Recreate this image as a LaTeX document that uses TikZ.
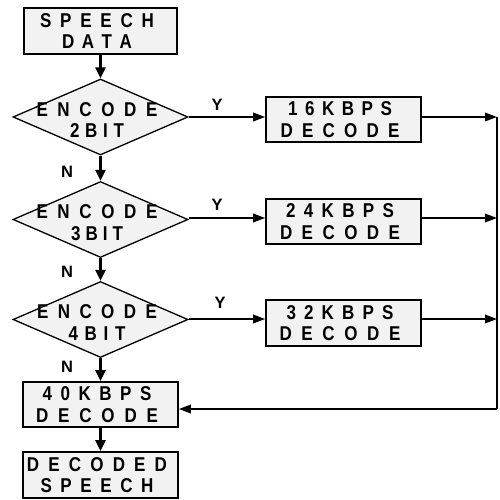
\documentclass[tikz,border=0pt]{standalone}
\usepackage{fontspec}
\setmainfont{Liberation Sans}
\newfontfamily\lblfont{Liberation Sans}[FakeStretch=0.85]
\usetikzlibrary{shapes.geometric,arrows.meta}
% letters of a word spread evenly over a given width (in pt)
\newcommand\spread[2]{\makebox[#1pt][s]{#2}}

\begin{document}
\begin{tikzpicture}[x=1pt,y=-1pt,
  shade/.style={fill=black!5},
  procbox/.style={rectangle,draw,shade,line width=1.7pt,inner sep=0pt,
    minimum width=155pt,minimum height=45pt},
  decision/.style={diamond,draw,shade,line width=1.3pt,inner sep=0pt,
    minimum width=175pt,minimum height=76pt},
  txt/.style={font=\lblfont\bfseries\fontsize{20}{21.5}\selectfont,
    align=center,inner sep=0pt,xshift=-3.5pt},
  yn/.style={font=\bfseries\fontsize{16.5}{16.5}\selectfont,inner sep=0pt},
  vflow/.style={line width=2.6pt,-{Triangle[length=11pt,width=10pt]}},
  hflow/.style={line width=1.8pt,-{Triangle[length=12pt,width=8.5pt]}},
  rail/.style={line width=2.2pt,line join=miter}
]
\useasboundingbox (0,0) rectangle (500,500);

% left column
\node[procbox,minimum width=153pt,minimum height=46pt,
  label={[txt]center:\spread{114}{S P E E C H}\\\spread{70}{D A T A}}]
  (sd) at (100.5,31) {};
\node[decision,label={[txt,yshift=-3pt]center:\spread{121}{E N C O D E}\\\spread{54}{2 B I T}}]
  (d1) at (100.5,117) {};
\node[decision,label={[txt,yshift=-3pt]center:\spread{121}{E N C O D E}\\\spread{52}{3 B I T}}]
  (d2) at (100.5,219.5) {};
\node[decision,label={[txt,yshift=-3pt]center:\spread{120}{E N C O D E}\\\spread{57}{4 B I T}}]
  (d3) at (100.5,319.5) {};
\node[procbox,
  label={[txt]center:\spread{109}{4 0 K B P S}\\\spread{122}{D E C O D E}}]
  (k40) at (100.5,404.5) {};
\node[procbox,minimum height=46pt,
  label={[txt]center:\spread{140}{D E C O D E D}\\\spread{113}{S P E E C H}}]
  (ds) at (100.5,475) {};

% right column
\node[procbox,
  label={[txt]center:\spread{104}{1 6 K B P S}\\\spread{119}{D E C O D E}}]
  (k16) at (343.5,119.5) {};
\node[procbox,
  label={[txt]center:\spread{108}{2 4 K B P S}\\\spread{120}{D E C O D E}}]
  (k24) at (343.5,221.5) {};
\node[procbox,minimum height=46pt,
  label={[txt]center:\spread{107}{3 2 K B P S}\\\spread{121}{D E C O D E}}]
  (k32) at (343.5,323) {};

% rail collecting the decoder outputs
\coordinate (r1) at (497,117);
\coordinate (r2) at (497,218);
\coordinate (r3) at (497,319);
\coordinate (r4) at (497,409);

% branch labels
\node[yn] (y1) at (217,105) {Y};
\node[yn] (y2) at (217,205) {Y};
\node[yn] (y3) at (220,303) {Y};
\node[yn] (n1) at (67,172) {N};
\node[yn] (n2) at (67,272) {N};
\node[yn] (n3) at (67,367) {N};

% main flow
\draw[vflow] (sd) -- (d1);
\draw[vflow] (d1) -- (d2);
\draw[vflow] (d2) -- (d3);
\draw[vflow] (d3) -- (k40);
\draw[vflow] (k40) -- (ds);

% yes branches
\draw[hflow] (d1.east) -- (d1.east -| k16.west);
\draw[hflow] (d2.east |- r2) -- (r2 -| k24.west);
\draw[hflow] (d3.east |- r3) -- (r3 -| k32.west);

% decoder outputs into the rail
\draw[rail] (r1) -- (r4);
\draw[hflow] (r1 -| k16.east) -- (r1);
\draw[hflow] (r2 -| k24.east) -- (r2);
\draw[hflow] (r3 -| k32.east) -- (r3);
\draw[hflow,line join=miter] (r4) -- (r4 -| k40.east);
\end{tikzpicture}
\end{document}
